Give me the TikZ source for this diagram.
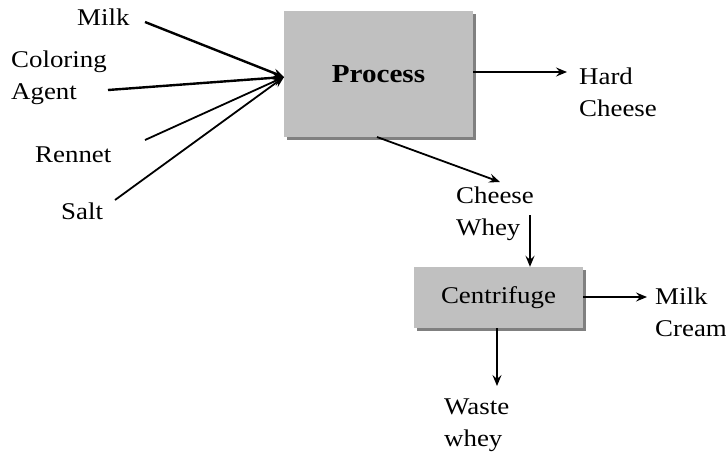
\documentclass[tikz,border=0pt]{standalone}
\usepackage{fontspec}
\setmainfont[FakeStretch=1.12]{Liberation Serif}
\usetikzlibrary{arrows.meta}
\begin{document}
\begin{tikzpicture}[x=1pt,y=-1pt,
  lbl/.style={inner sep=0pt,anchor=west,align=left,
    font=\fontsize{24}{32}\selectfont},
  unitbox/.style={fill=boxgray,draw=none,inner sep=0pt,
    preaction={fill=shadowgray,transform canvas={shift={(3pt,-3pt)}}}},
  flow/.style={line width=1.8pt,-{Stealth[length=11pt,width=9pt,inset=4pt]}},
  heavy/.style={flow,line width=2.4pt}]
\definecolor{boxgray}{HTML}{C0C0C0}
\definecolor{shadowgray}{HTML}{808080}
\useasboundingbox (0,0) rectangle (726,459);

% unit operations
\node[unitbox,minimum width=189pt,minimum height=126pt] (process) at (378.5,74)
  {\fontsize{26}{28}\selectfont\bfseries Process};
\node[unitbox,minimum width=169pt,minimum height=61pt] (centrifuge) at (498.5,297.5)
  {\fontsize{24}{26}\selectfont Centrifuge};

% stream labels
\node[lbl] (milk) at (77,17) {Milk};
\node[lbl] (coloring) at (11,78) {Coloring\\Agent};
\node[lbl] (rennet) at (35,155) {Rennet};
\node[lbl] (salt) at (61,211) {Salt};
\node[lbl] (hard) at (579,92) {Hard\\Cheese};
\node[lbl] (whey) at (456,214) {Cheese\\Whey};
\node[lbl] (cream) at (655,312) {Milk\\Cream};
\node[lbl] (waste) at (444,425) {Waste\\whey};

% stream end points
\coordinate (feed) at (284,77);
\coordinate (milkS) at (145,22);
\coordinate (colS) at (108,90);
\coordinate (renS) at (145,140);
\coordinate (saltS) at (115,200);
\coordinate (hardE) at (567,72);
\coordinate (procB) at (377,137);
\coordinate (wheyE) at (500,182);
\coordinate (wheyS) at (530,215);
\coordinate (creamE) at (647,297);
\coordinate (cenB) at (497,328);
\coordinate (wasteE) at (497,386);

% feeds into the process
\draw[heavy] (milkS) -- (feed);
\draw[heavy] (colS) -- (feed);
\draw[flow] (renS) -- (feed);
\draw[flow] (saltS) -- (feed);

% products
\draw[flow] (process.east |- hardE) -- (hardE);
\draw[flow] (procB) -- (wheyE);
\draw[flow] (wheyS) -- (wheyS |- centrifuge.north);
\draw[flow] (centrifuge.east |- creamE) -- (creamE);
\draw[flow] (cenB) -- (wasteE);
\end{tikzpicture}
\end{document}
